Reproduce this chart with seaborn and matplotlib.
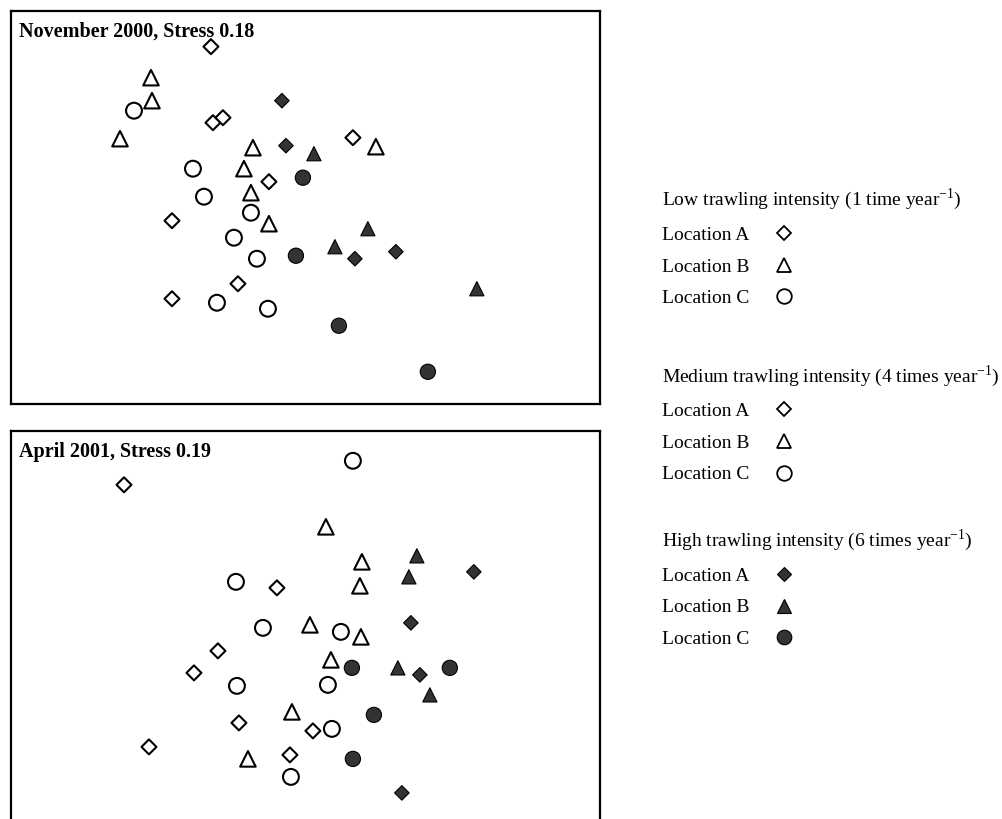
import matplotlib
matplotlib.use("Agg")
import pandas as pd
import matplotlib.pyplot as plt
import seaborn as sns
from matplotlib.lines import Line2D

# MDS ordination scores (same site order in both)
# 8 x A, 8 x B, 8 x C at low/medium trawling, then 4 x A, 4 x B, 4 x C at high trawling
nov_dim1 = [-0.94, -0.92, -0.82, 0.48, -0.36, -1.33, -0.67, -1.33,
            -1.54, -1.53, -1.85, -0.52, 0.71, -0.61, -0.54, -0.36,
            -1.71, -1.12, -1.01, -0.54, -0.71, -0.48, -0.88, -0.37,
            -0.23, -0.19, 0.50, 0.91,
            0.09, 0.63, 0.30, 1.72,
            -0.02, -0.09, 0.34, 1.23]
nov_dim2 = [1.60, 0.84, 0.89, 0.69, 0.25, -0.14, -0.77, -0.92,
            1.29, 1.06, 0.68, 0.59, 0.60, 0.38, 0.14, -0.17,
            0.96, 0.38, 0.10, -0.06, -0.31, -0.52, -0.96, -1.02,
            1.06, 0.61, -0.52, -0.45,
            0.53, -0.22, -0.40, -0.82,
            0.29, -0.49, -1.19, -1.65]

apr_dim1 = [-1.81, -0.28, -0.87, -1.11, -0.66, -1.56, 0.08, -0.15,
            0.21, 0.57, 0.55, 0.05, 0.56, 0.26, -0.13, -0.57,
            0.48, -0.69, -0.42, 0.36, -0.68, 0.23, 0.27, -0.14,
            1.69, 1.06, 1.15, 0.97,
            1.12, 1.04, 0.93, 1.25,
            0.47, 1.45, 0.69, 0.48]
apr_dim2 = [1.42, 0.39, -0.24, -0.46, -0.96, -1.20, -1.04, -1.28,
            1.00, 0.65, 0.41, 0.02, -0.10, -0.33, -0.85, -1.32,
            1.66, 0.45, -0.01, -0.05, -0.59, -0.58, -1.02, -1.50,
            0.55, 0.04, -0.48, -1.66,
            0.71, 0.50, -0.41, -0.68,
            -0.41, -0.41, -0.88, -1.32]

site_location = list("AAAAAAAA" "BBBBBBBB" "CCCCCCCC" "AAAA" "BBBB" "CCCC")
site_trawling = ["low/medium"] * 24 + ["high"] * 12

panel_titles = ["November 2000, Stress 0.18", "April 2001, Stress 0.19"]
legend_titles = [r"Low trawling intensity (1 time year$^{\mathregular{-1}}$)",
                 r"Medium trawling intensity (4 times year$^{\mathregular{-1}}$)",
                 r"High trawling intensity (6 times year$^{\mathregular{-1}}$)"]
location_names = ["A", "B", "C"]
location_labels = ["Location A", "Location B", "Location C"]

sns.set_style("white")
plt.rcParams["font.family"] = ["Liberation Serif", "DejaVu Serif"]
plt.rcParams["mathtext.fontset"] = "custom"
plt.rcParams["mathtext.rm"] = "Liberation Serif"
plt.rcParams["text.color"] = "black"
plt.rcParams["legend.labelcolor"] = "black"

markers = {"A": "D", "B": "^", "C": "o"}
hollow_sizes = {"A": 58, "B": 125, "C": 130}
filled_sizes = {"A": 55, "B": 105, "C": 120}
dark = "#333333"

fig = plt.figure(figsize=(10.03, 8.19), dpi=100)
ax_top = fig.add_axes([0.011, 0.507, 0.587, 0.480])
ax_bot = fig.add_axes([0.011, -0.006, 0.587, 0.480])

panels = [(ax_top, nov_dim1, nov_dim2), (ax_bot, apr_dim1, apr_dim2)]
for (ax, d1, d2), title in zip(panels, panel_titles):
    df = pd.DataFrame({"dim1": d1, "dim2": d2,
                       "location": site_location, "trawling": site_trawling})
    hollow = df[df["trawling"] == "low/medium"]
    high = df[df["trawling"] == "high"]
    sns.scatterplot(data=hollow, x="dim1", y="dim2", style="location", markers=markers,
                    size="location", sizes=hollow_sizes, color="white",
                    edgecolor="black", linewidth=1.5, legend=False, ax=ax)
    sns.scatterplot(data=high, x="dim1", y="dim2", style="location", markers=markers,
                    size="location", sizes=filled_sizes, color=dark,
                    edgecolor="black", linewidth=0.8, legend=False, ax=ax)
    ax.set_xlim(-2.94, 2.95)
    ax.set_ylim(-1.97, 1.96)
    ax.set_xticks([])
    ax.set_yticks([])
    ax.set_xlabel("")
    ax.set_ylabel("")
    for sp in ax.spines.values():
        sp.set_color("black")
        sp.set_linewidth(1.6)
    ax.text(0.014, 0.972, title, transform=ax.transAxes, ha="left", va="top",
            fontsize=14.5, fontweight="bold")

# legend blocks: low and medium share hollow symbols, high uses filled ones
legend_fills = ["white", "white", dark]
legend_tops = [0.772, 0.557, 0.356]
for ltitle, fill, top in zip(legend_titles, legend_fills, legend_tops):
    handles = []
    for loc in location_names:
        small = loc == "A"
        handles.append(Line2D([], [], ls="", marker=markers[loc],
                              markersize=7.5 if small else 10.5,
                              markerfacecolor=fill, markeredgecolor="black",
                              markeredgewidth=1.3 if fill == "white" else 0.8))
    leg = fig.legend(handles, location_labels, title=ltitle, loc="upper left",
                     bbox_to_anchor=(0.66, top), frameon=False, markerfirst=False,
                     alignment="left", fontsize=14, title_fontsize=14,
                     labelspacing=0.72, handlelength=1.0, handletextpad=1.3,
                     borderpad=0, borderaxespad=0)

fig.savefig("out.png", dpi=100)
